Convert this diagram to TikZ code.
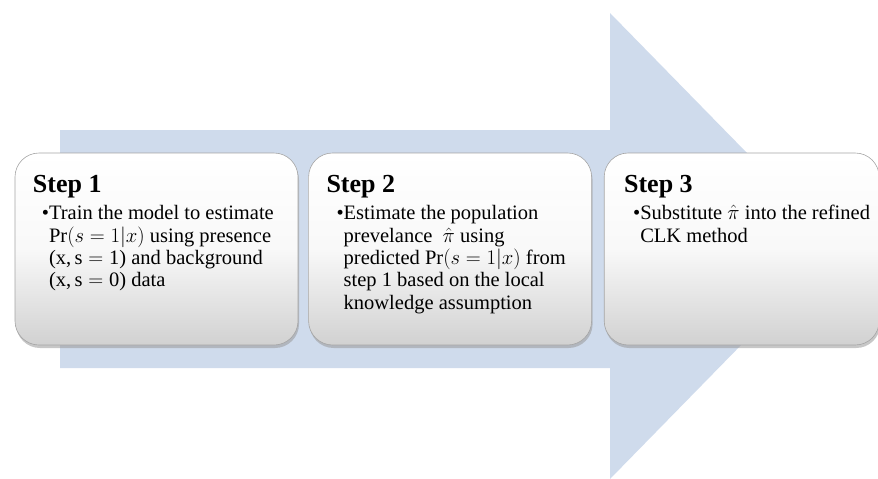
\documentclass[tikz,border=0pt]{standalone}
\usepackage{amsmath}
\usepackage{fontspec}
\setmainfont{Liberation Serif}
\usetikzlibrary{positioning,shadows}
\definecolor{myblue}{RGB}{207,219,236}
\definecolor{myedge}{RGB}{165,165,165}
\newcommand{\stepbody}[1]{\textbullet\parbox[t]{250pt}{#1}}

\begin{document}
\begin{tikzpicture}[x=1pt,y=-1pt,
  stepbox/.style={draw=myedge,line width=0.6pt,rounded corners=24pt,inner sep=0pt,
    top color=white,bottom color=gray!36,middle color=gray!5,minimum height=192pt,
    drop shadow={shadow xshift=1pt,shadow yshift=-3pt,fill=gray!80,opacity=.55}},
  steptitle/.style={anchor=base west,inner sep=0pt,font=\fontsize{26}{28}\selectfont\bfseries},
  stepitem/.style={anchor=base west,inner sep=0pt,font=\fontsize{20.5}{22.4}\selectfont}]

  \useasboundingbox (0,0) rectangle (878,479);

  % draw the big arrow behind the steps
  \fill[myblue] (60,130) -- (610,130) -- (610,13) -- (838,246) -- (610,479)
    -- (610,368) -- (60,368) -- cycle;

  \node[stepbox,minimum width=283pt] (step1) at (156.5,249) {};
  \node[stepbox,minimum width=283pt,right=10pt of step1] (step2) {};
  \node[stepbox,minimum width=275pt,right=12pt of step2] (step3) {};

  % titles
  \node[steptitle] (title1) at ([shift={(18,40)}]step1.north west) {Step 1};
  \node[steptitle] (title2) at ([shift={(18,40)}]step2.north west) {Step 2};
  \node[steptitle] (title3) at ([shift={(20,40)}]step3.north west) {Step 3};

  % bullet texts
  \node[stepitem] (item1) at ([shift={(27,67)}]step1.north west)
    {\stepbody{Train the model to estimate\\ $\Pr(s=1|x)$ using presence\\
      (x,\,s${}={}$1) and background\\ (x,\,s${}={}$0) data}};
  \node[stepitem] (item2) at ([shift={(28,67)}]step2.north west)
    {\stepbody{Estimate the population\\ prevelance \ $\hat{\pi}$ using\\
      predicted $\Pr(s=1|x)$ from\\ step 1 based on the local\\ knowledge assumption}};
  \node[stepitem] (item3) at ([shift={(29,67)}]step3.north west)
    {\stepbody{Substitute $\hat{\pi}$ into the refined\\ CLK method}};

\end{tikzpicture}
\end{document}
